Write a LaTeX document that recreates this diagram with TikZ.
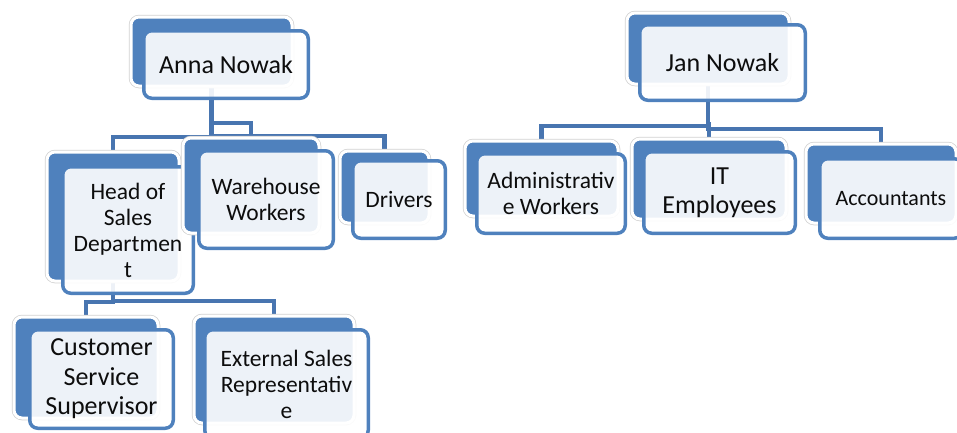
\documentclass[tikz,border=0pt]{standalone}
\usepackage{fontspec}
\setmainfont{Carlito}
\usetikzlibrary{positioning,calc}
\definecolor{orgblue}{RGB}{79,129,189}
\definecolor{linkblue}{RGB}{72,117,176}
\pgfdeclarelayer{background}
\pgfsetlayers{background,main}

\begin{document}
\begin{tikzpicture}[
            x=1pt, y=-1pt,
            every node/.style={inner sep=0pt, outer sep=0pt},
            back/.style={rectangle, rounded corners=8pt, fill=orgblue, draw=white, line width=3pt,
                preaction={draw=black!18, line width=4.5pt}},
            unit/.style={rectangle, rounded corners=8pt, draw=orgblue, line width=3.5pt,
                fill=white, fill opacity=0.9, text opacity=1, text=black!95, align=center,
                font=\fontsize{23.5}{26}\selectfont},
            big/.style={font=\fontsize{26}{29.5}\selectfont},
            link/.style={draw=linkblue, line width=4.5pt}
        ]
        \useasboundingbox (0,0) rectangle (957,432);
        \clip (0,0) rectangle (957,432);

        % Anna Nowak %
        \node[back, minimum width=161, minimum height=69] (anna-b) at (211.5,51.5) {};
        \node[unit, big, minimum width=164.5, minimum height=67.5] (anna) at (226,64.5) {Anna Nowak};

        % Her team %
        \node[back, minimum width=132, minimum height=129] (head-b) at (113,216.5) {};
        \node[unit, minimum width=130.5, minimum height=126.5] (head) at (128,230) {Head of\\Sales\\Departmen\\t};
        \node[back, minimum width=136, minimum height=95] (ware-b) at (251,185.5) {};
        \node[unit, minimum width=134.5, minimum height=97.5] (ware) at (266,199.5) {Warehouse\\Workers};
        \node[back, minimum width=89, minimum height=72] (drv-b) at (384.5,187) {};
        \node[unit, minimum width=92.5, minimum height=77.5] (drv) at (399,199.5) {Drivers};

        % Sales department %
        \node[back, minimum width=144, minimum height=101] (cust-b) at (86,367.5) {};
        \node[unit, big, minimum width=143.5, minimum height=98.5] (cust) at (101.5,379) {Customer\\Service\\Supervisor};
        \node[back, minimum width=160, minimum height=107] (ext-b) at (274,369.5) {};
        \node[unit, minimum width=163.5, minimum height=108.5] (ext) at (286.5,384) {External Sales\\Representativ\\e};

        % Jan Nowak %
        \node[back, minimum width=162, minimum height=71] (jan-b) at (708,48.5) {};
        \node[unit, big, minimum width=165.5, minimum height=75.5] (jan) at (722.5,62.5) {Jan Nowak};

        % His team %
        \node[back, minimum width=153, minimum height=75] (adm-b) at (541.5,178.5) {};
        \node[unit, minimum width=148.5, minimum height=79.5] (adm) at (551,193.5) {Administrativ\\e Workers};
        \node[back, minimum width=154, minimum height=80] (it-b) at (709,179) {};
        \node[unit, big, minimum width=151.5, minimum height=81.5] (it) at (719.5,192.5) {IT\\Employees};
        \node[back, minimum width=150, minimum height=79] (acc-b) at (881,183.5) {};
        \node[unit, font=\fontsize{22}{25}\selectfont, minimum width=142.5, minimum height=79.5] (acc) at (891,198.5) {Accountants};

        % Draw links %
        \begin{pgfonlayer}{background}
            \foreach \p/\c in {anna-b/head-b, anna-b/ware-b, anna-b/drv-b,
                               head-b/cust-b, head-b/ext-b,
                               jan-b/adm-b, jan-b/it-b, jan-b/acc-b}
                \draw[link] (\p.south) |- ($(\c.north)+(0,-15)$) -- (\c.north);
        \end{pgfonlayer}
\end{tikzpicture}
\end{document}
